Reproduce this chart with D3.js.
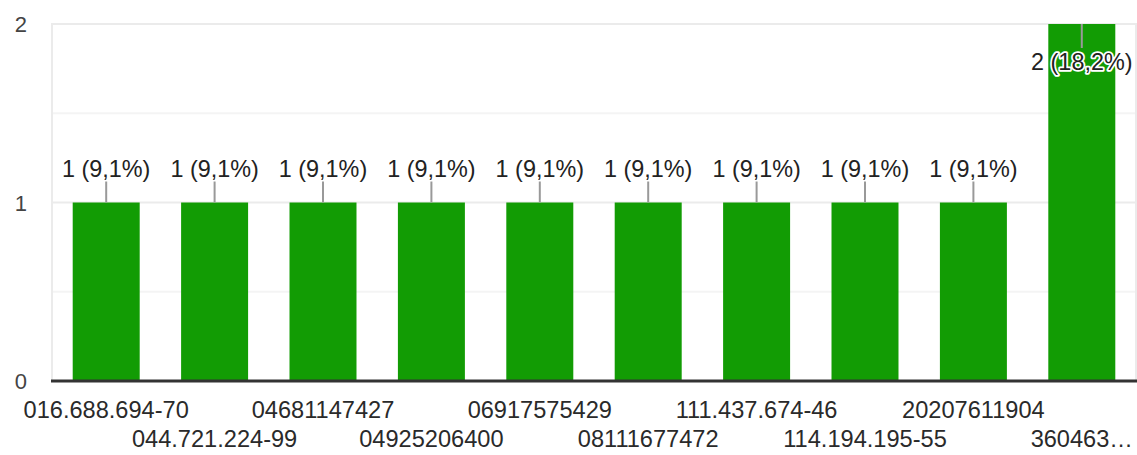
<!DOCTYPE html>
<html>
<head>
<meta charset="utf-8">
<script src="https://cdn.jsdelivr.net/npm/d3@7"></script>
<style>
  html, body { margin: 0; padding: 0; background: #fff; }
  svg { display: block; }
  text { font-family: "Liberation Sans", Arial, sans-serif; }
</style>
</head>
<body>
<svg id="chart" width="1137" height="455"></svg>
<script>
const categories = ["016.688.694-70", "044.721.224-99", "04681147427", "04925206400", "06917575429",
                    "08111677472", "111.437.674-46", "114.194.195-55", "20207611904", "360463…"];
const counts = [1, 1, 1, 1, 1, 1, 1, 1, 1, 2];
const percents = ["9,1%", "9,1%", "9,1%", "9,1%", "9,1%", "9,1%", "9,1%", "9,1%", "9,1%", "18,2%"];
const yTicks = [0, 1, 2];
const yMinorTicks = [0.5, 1.5];

(function () {
const svg = d3.select("#chart");
const W = 1137, H = 455;
const pLeft = 52, pRight = 1136, pTop = 24, pBottom = 381;

const x = d3.scaleBand().domain(categories).range([pLeft, pRight]).paddingInner(0.382).paddingOuter(0.191);
const y = d3.scaleLinear().domain([0, 2]).range([pBottom, pTop]);

// minor gridlines
svg.append("g").selectAll("line").data(yMinorTicks).join("line")
  .attr("x1", pLeft).attr("x2", pRight)
  .attr("y1", d => y(d)).attr("y2", d => y(d))
  .attr("stroke", "#f4f4f4").attr("stroke-width", 2);
// major gridlines
svg.append("g").selectAll("line").data(yTicks.filter(d => d > 0)).join("line")
  .attr("x1", pLeft).attr("x2", pRight)
  .attr("y1", d => y(d)).attr("y2", d => y(d))
  .attr("stroke", "#ebebeb").attr("stroke-width", 2);
// vertical frame lines
svg.append("g").selectAll("line").data([pLeft, pRight]).join("line")
  .attr("x1", d => d).attr("x2", d => d)
  .attr("y1", pTop - 1).attr("y2", pBottom)
  .attr("stroke", "#ebebeb").attr("stroke-width", 2);

// y axis labels
svg.append("g").selectAll("text").data(yTicks).join("text")
  .attr("x", 27).attr("y", d => y(d) + 8)
  .attr("text-anchor", "end")
  .attr("font-size", 22).attr("fill", "#444")
  .text(d => d);

// bars
const data = categories.map((c, i) => ({ c, v: counts[i], p: percents[i], i }));
svg.append("g").selectAll("rect").data(data).join("rect")
  .attr("x", d => x(d.c)).attr("width", x.bandwidth())
  .attr("y", d => y(d.v)).attr("height", d => y(0) - y(d.v))
  .attr("fill", "#129c04");

// baseline
svg.append("line")
  .attr("x1", pLeft - 1).attr("x2", W)
  .attr("y1", y(0)).attr("y2", y(0))
  .attr("stroke", "#333").attr("stroke-width", 3);

// x labels (staggered)
svg.append("g").selectAll("text").data(data).join("text")
  .attr("x", d => x(d.c) + x.bandwidth() / 2)
  .attr("y", d => d.i % 2 === 0 ? 418 : 447)
  .attr("text-anchor", "middle")
  .attr("font-size", 23.6).attr("fill", "#2a2a2a")
  .text(d => d.c);

// value labels with leader lines
const maxV = d3.max(counts);
const lab = svg.append("g");
data.forEach(d => {
  const cx = x(d.c) + x.bandwidth() / 2;
  const inside = d.v === maxV && d.v > 1;
  const y0 = y(d.v);
  const y1 = inside ? y0 + 24 : y0 - 21;
  lab.append("line")
    .attr("x1", cx).attr("x2", cx).attr("y1", y0).attr("y2", y1)
    .attr("stroke", "#999").attr("stroke-width", 2);
  const t = lab.append("text")
    .attr("x", cx)
    .attr("y", inside ? y0 + 46 : y0 - 26)
    .attr("text-anchor", "middle")
    .attr("font-size", 23.4).attr("fill", "#222")
    .text(`${d.v} (${d.p})`);
  if (inside) {
    t.attr("stroke", "#fff").attr("stroke-width", 3.5).attr("paint-order", "stroke")
     .attr("stroke-linejoin", "round");
  }
});
})();
</script>
</body>
</html>
